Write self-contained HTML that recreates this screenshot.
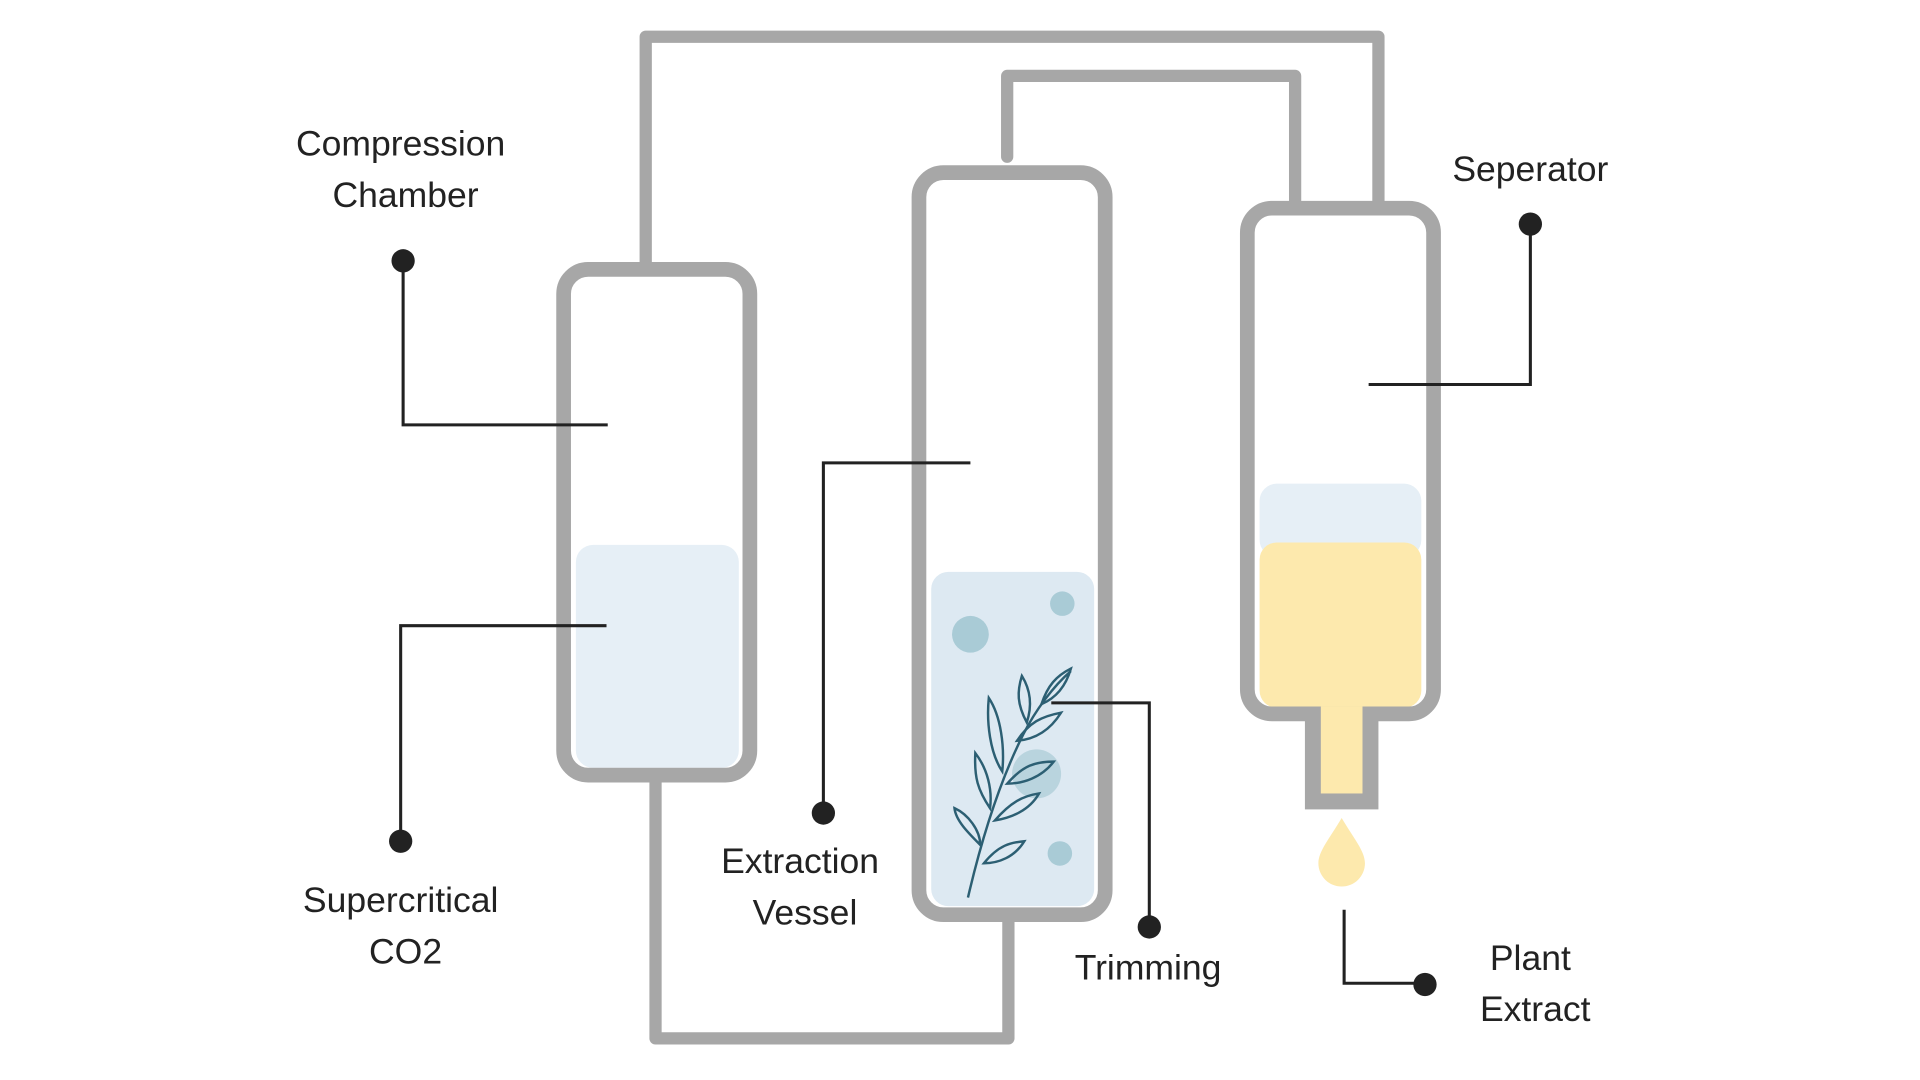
<!DOCTYPE html>
<html><head><meta charset="utf-8"><style>
html,body{margin:0;padding:0;background:#fff;width:1920px;height:1080px;overflow:hidden}
svg{display:block}
text{font-family:"Liberation Sans","DejaVu Sans",sans-serif;font-size:29px;fill:#222}
</style></head><body>
<svg width="1920" height="1080" viewBox="0 0 1567 882" preserveAspectRatio="none">
<rect width="1567" height="882" fill="#fff"/>
<g fill="none" stroke="#a7a7a7" stroke-width="10" stroke-linecap="round" stroke-linejoin="round">
<path d="M527 215 V30 H1125 V165"/>
<path d="M822 128 V62 H1057 V165"/>
<path d="M535 637 V848 H823 V750"/>
</g>
<rect x="470" y="445" width="133" height="182" rx="14" fill="#e6eff6"/>
<rect x="760" y="467" width="133" height="273" rx="14" fill="#dde9f2"/>
<rect x="1028" y="395" width="132" height="60" rx="14" fill="#e6eff6"/>
<rect x="1028" y="443" width="132" height="135" rx="14" fill="#fde9ad"/>
<g fill="none" stroke="#a7a7a7" stroke-width="12">
<rect x="460" y="220" width="152" height="413" rx="20"/>
<rect x="750" y="141" width="152" height="606" rx="20"/>
<rect x="1018" y="170" width="152" height="413" rx="20"/>
</g>
<rect x="1065" y="577" width="60" height="84" fill="#a7a7a7"/>
<rect x="1078" y="577" width="34" height="71" fill="#fde9ad"/>
<path d="M1095 668 C1085 685 1076 695 1076 705 A19 19 0 0 0 1114 705 C1114 695 1105 685 1095 668Z" fill="#fde9ad"/>
<g fill="#a9cbd6">
<circle cx="792" cy="518" r="15"/><circle cx="867" cy="493" r="10"/>
<circle cx="846" cy="632" r="20" opacity="0.7"/><circle cx="865" cy="697" r="10"/>
</g>
<g fill="none" stroke="#2c5f73" stroke-width="2">
<path d="M790 733 C800 690 815 640 835 600 C845 580 860 560 874 548"/>
<path d="M800 690 C790 680 780 670 779 660 C790 665 800 678 800 690Z"/>
<path d="M803 705 C815 690 825 688 836 687 C828 700 815 705 803 705Z"/>
<path d="M808 660 C798 645 795 635 796 615 C806 628 810 645 808 660Z"/>
<path d="M812 670 C825 655 835 650 848 648 C840 662 825 668 812 670Z"/>
<path d="M818 630 C808 615 805 590 807 570 C817 585 820 610 818 630Z"/>
<path d="M822 640 C835 625 845 622 860 622 C850 635 835 640 822 640Z"/>
<path d="M830 605 C840 590 850 585 866 582 C856 598 843 604 830 605Z"/>
<path d="M838 590 C830 575 830 565 834 552 C842 565 842 578 838 590Z"/>
<path d="M850 575 C855 560 862 552 874 546 C870 560 862 570 850 575Z"/>
</g>
<g fill="none" stroke="#222" stroke-width="2.5">
<path d="M329 213 V347 H496"/>
<path d="M327 687 V511 H495"/>
<path d="M672 664 V378 H792"/>
<path d="M938 757 V574 H858"/>
<path d="M1249 183 V314 H1117"/>
<path d="M1097 743 V803 H1163"/>
</g>
<g fill="#222">
<circle cx="329" cy="213" r="9.5"/><circle cx="327" cy="687" r="9.5"/>
<circle cx="672" cy="664" r="9.5"/><circle cx="938" cy="757" r="9.5"/>
<circle cx="1249" cy="183" r="9.5"/><circle cx="1163" cy="804" r="9.5"/>
</g>
<g text-anchor="middle">
<text x="327" y="127">Compression</text><text x="331" y="169">Chamber</text>
<text x="327" y="745">Supercritical</text><text x="331" y="787">CO2</text>
<text x="653" y="713">Extraction</text><text x="657" y="755">Vessel</text>
<text x="937" y="800">Trimming</text>
<text x="1249" y="148">Seperator</text>
<text x="1249" y="792">Plant</text><text x="1253" y="834">Extract</text>
</g>
</svg>
</body></html>
